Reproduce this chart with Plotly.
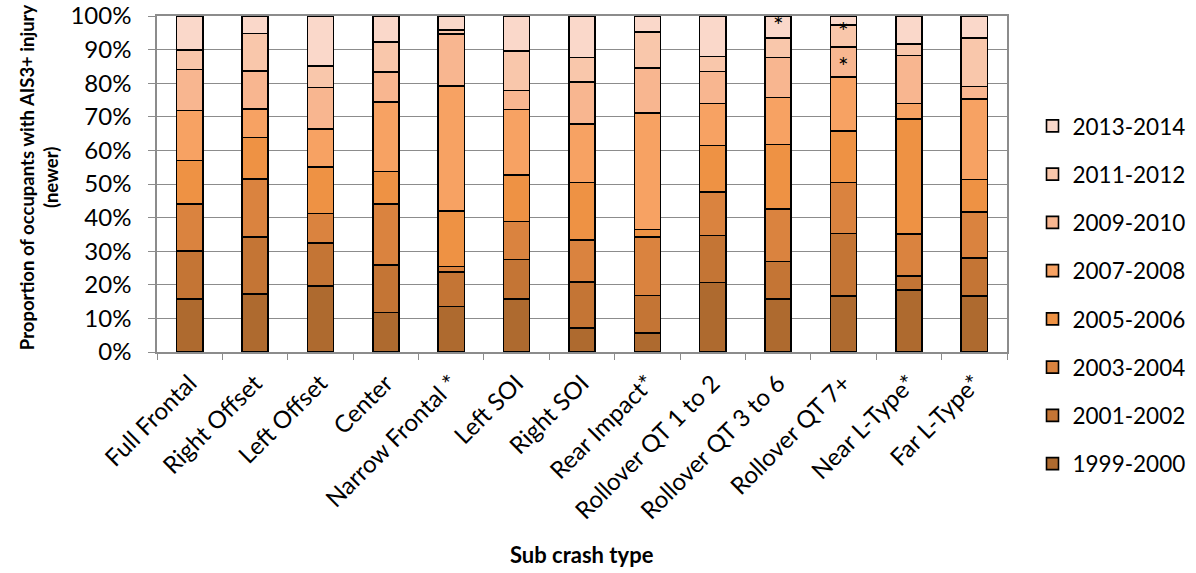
import plotly.graph_objects as go

categories = ["Full Frontal", "Right Offset", "Left Offset", "Center", "Narrow Frontal *",
              "Left SOI", "Right SOI", "Rear Impact*", "Rollover QT 1 to 2",
              "Rollover QT 3 to 6", "Rollover QT 7+", "Near L-Type*", "Far L-Type*"]

series_names = ["1999-2000", "2001-2002", "2003-2004", "2005-2006",
                "2007-2008", "2009-2010", "2011-2012", "2013-2014"]

y1999_2000 = [15.7, 17.2, 19.6, 11.8, 13.6, 15.7, 7.1, 5.7, 20.7, 15.7, 16.7, 18.5, 16.7]
y2001_2002 = [14.4, 17.1, 12.9, 14.1, 10.3, 11.8, 13.7, 11.1, 14.0, 11.2, 18.6, 4.1, 11.2]
y2003_2004 = [14.0, 17.2, 8.7, 18.1, 1.6, 11.3, 12.6, 17.5, 13.0, 15.7, 15.1, 12.5, 13.8]
y2005_2006 = [12.9, 12.3, 13.8, 9.7, 16.4, 13.9, 17.0, 2.2, 13.8, 19.2, 15.3, 34.2, 9.7]
y2007_2008 = [14.9, 8.5, 11.4, 20.7, 37.2, 19.5, 17.5, 34.7, 12.5, 14.0, 16.2, 4.7, 23.9]
y2009_2010 = [12.2, 11.3, 12.3, 8.9, 15.5, 5.6, 12.5, 13.3, 9.5, 11.8, 8.9, 14.2, 3.7]
y2011_2012 = [5.7, 11.2, 6.5, 9.0, 1.2, 11.8, 7.3, 10.7, 4.5, 5.9, 6.6, 3.4, 14.5]
y2013_2014 = [10.2, 5.2, 14.8, 7.7, 4.2, 10.4, 12.3, 4.8, 12.0, 6.5, 2.6, 8.4, 6.5]

series_values = [y1999_2000, y2001_2002, y2003_2004, y2005_2006,
                 y2007_2008, y2009_2010, y2011_2012, y2013_2014]

colors = ["#AE6A2F", "#C47535", "#DA833F", "#EE9244",
          "#F7A263", "#F8B690", "#F9C7AB", "#FAD8CA"]

y_ticks = [0, 10, 20, 30, 40, 50, 60, 70, 80, 90, 100]
y_tick_labels = ["0%", "10%", "20%", "30%", "40%", "50%", "60%", "70%", "80%", "90%", "100%"]

# asterisk marks (category, y position in %)
star_cats = ["Rollover QT 3 to 6", "Rollover QT 7+", "Rollover QT 7+"]
star_y = [97.2, 95.6, 85.2]

FONT = "Lato"
FS = 22.5

fig = go.Figure()
n = len(series_names)
for i, (name, vals, col) in enumerate(zip(series_names, series_values, colors)):
    fig.add_trace(go.Bar(
        x=categories, y=vals, name=name, legendgroup=name, legendrank=100 + n - i,
        marker=dict(color=col, line=dict(color="#000000", width=1.6)),
    ))

for c, yy in zip(star_cats, star_y):
    fig.add_annotation(x=c, y=yy, text="*", showarrow=False, xref="x", yref="y",
                       font=dict(family=FONT, size=25, color="#000"),
                       xanchor="center", yanchor="middle")

fig.add_annotation(text="<b>Proportion of occupants with AIS3+ injury<br>(newer)</b>",
                   xref="paper", yref="paper", x=-0.139, y=0.52, textangle=-90,
                   showarrow=False, xanchor="center", yanchor="middle",
                   font=dict(family=FONT, size=18.5, color="#000"))
fig.add_annotation(text="<b>Sub crash type</b>", xref="paper", yref="paper",
                   x=0.5, y=-0.604, showarrow=False, xanchor="center", yanchor="middle",
                   font=dict(family=FONT, size=22, color="#000"))

fig.update_layout(
    barmode="stack", bargap=0.6,
    width=1196, height=573,
    margin=dict(l=157, r=189, t=16, b=221, autoexpand=False),
    plot_bgcolor="white", paper_bgcolor="white",
    font=dict(family=FONT, size=FS, color="#000"),
    showlegend=True,
    legend=dict(x=1.03, y=0.736, xanchor="left", yanchor="top",
                traceorder="grouped", tracegroupgap=16, maxheight=540,
                font=dict(family=FONT, size=FS, color="#000"),
                bgcolor="rgba(0,0,0,0)"),
)
fig.update_yaxes(range=[0, 100], tickmode="array", tickvals=y_ticks, ticktext=y_tick_labels,
                 showgrid=True, gridcolor="#8c8c8c", gridwidth=1.2,
                 showline=True, linecolor="#8c8c8c", linewidth=1.5, mirror=True,
                 ticks="outside", ticklen=7, tickcolor="#8c8c8c",
                 tickfont=dict(family=FONT, size=24, color="#000"),
                 ticklabelstandoff=12, zeroline=False, automargin=False)
fig.update_xaxes(tickangle=-45, tickson="boundaries", ticks="outside", ticklen=6,
                 tickcolor="#8c8c8c", showline=True, linecolor="#8c8c8c",
                 linewidth=1.5, mirror=True, showgrid=False, automargin=False,
                 tickfont=dict(family=FONT, size=24, color="#000"),
                 ticklabelstandoff=6)

fig.write_html("out.html", config={"displayModeBar": False},
               post_script="document.body.style.margin='0';")
